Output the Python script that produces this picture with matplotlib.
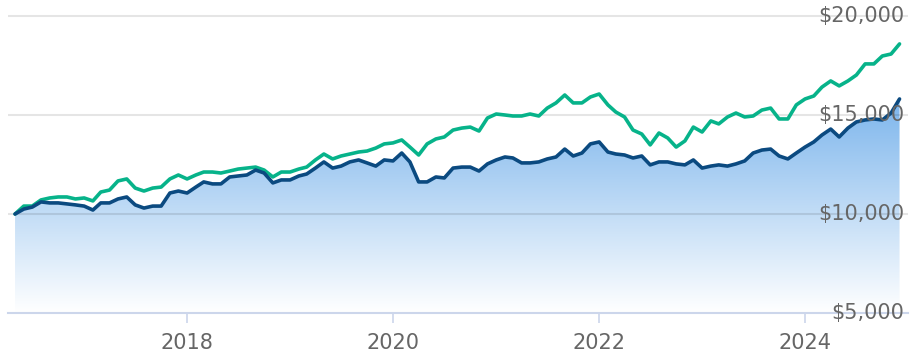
import numpy as np
import pandas as pd
import matplotlib
matplotlib.use("Agg")
import matplotlib.pyplot as plt
import matplotlib.dates as mdates
from matplotlib.colors import LinearSegmentedColormap

# ---- data ----
start_month = "2016-05-01"
end_month = "2024-12-01"

fund = [10000, 10250, 10350, 10610, 10560, 10560, 10510, 10460, 10400, 10200,
        10560, 10560, 10760, 10860, 10460, 10300, 10400, 10400, 11060, 11160,
        11060, 11360, 11620, 11520, 11520, 11870, 11920, 11970, 12220, 12070,
        11570, 11720, 11720, 11920, 12020, 12320, 12630, 12320, 12420, 12630,
        12730, 12580, 12420, 12730, 12680, 13080, 12630, 11620, 11620, 11870,
        11820, 12320, 12370, 12370, 12170, 12530, 12730, 12880, 12830, 12580,
        12580, 12630, 12780, 12880, 13280, 12930, 13080, 13540, 13640, 13130,
        13030, 12980, 12830, 12930, 12480, 12630, 12630, 12530, 12480, 12730,
        12320, 12420, 12480, 12420, 12530, 12680, 13080, 13230, 13280, 12930,
        12780, 13080, 13380, 13640, 13990, 14290, 13890, 14340, 14650, 14750,
        14800, 14750, 15100, 15810]

benchmark = [10000, 10400, 10400, 10710, 10810, 10860, 10860, 10760, 10810, 10660,
             11110, 11210, 11670, 11770, 11310, 11160, 11310, 11360, 11770, 11970,
             11770, 11970, 12120, 12120, 12070, 12170, 12270, 12320, 12370, 12220,
             11870, 12120, 12120, 12270, 12370, 12730, 13030, 12780, 12930, 13030,
             13130, 13180, 13330, 13540, 13590, 13740, 13380, 12980, 13540, 13790,
             13890, 14240, 14340, 14390, 14190, 14850, 15050, 15000, 14950, 14950,
             15050, 14950, 15350, 15610, 16010, 15610, 15610, 15910, 16060, 15510,
             15150, 14900, 14240, 14040, 13490, 14090, 13840, 13380, 13690, 14390,
             14140, 14700, 14550, 14900, 15100, 14900, 14950, 15250, 15350, 14800,
             14800, 15510, 15810, 15960, 16410, 16720, 16470, 16720, 17020, 17580,
             17580, 17980, 18080, 18590]

year_ticks = ["2018-01-01", "2020-01-01", "2022-01-01", "2024-01-01"]
year_labels = ["2018", "2020", "2022", "2024"]
y_ticks = [5000, 10000, 15000, 20000]
y_labels = ["$5,000", "$10,000", "$15,000", "$20,000"]

dates = pd.date_range(start_month, end_month, freq="MS")

# ---- styling ----
W, H = 918, 356
fig = plt.figure(figsize=(W / 100, H / 100), dpi=100)
ax = fig.add_axes([8 / W, 43 / H, 900 / W, 313 / H])

x = mdates.date2num(dates)
fund_arr = np.array(fund, dtype=float)
bench_arr = np.array(benchmark, dtype=float)

ax.set_xlim(mdates.date2num(pd.Timestamp("2016-04-06")),
            mdates.date2num(pd.Timestamp("2024-12-31")))
ax.set_ylim(5000, 20808)

# gradient fill under fund line
poly = ax.fill_between(x, fund_arr, 5000, facecolor="none", edgecolor="none")
cmap = LinearSegmentedColormap.from_list("g", ["#7cb5ec", "#ffffff"])
grad = np.linspace(0, 1, 256).reshape(-1, 1)
im = ax.imshow(grad, cmap=cmap, aspect="auto", origin="upper",
               extent=[x[0], x[-1], 5000, fund_arr.max()], zorder=1,
               interpolation="bicubic")
path = poly.get_paths()[0]
im.set_clip_path(path, transform=ax.transData)

# grid
for v in y_ticks[1:]:
    ax.axhline(v, color="black", alpha=0.1, lw=1.5, zorder=2)

ax.plot(x, fund_arr, color="#0b4a80", lw=2.6, zorder=4,
        solid_joinstyle="round", solid_capstyle="round")
ax.plot(x, bench_arr, color="#07b38a", lw=2.6, zorder=3,
        solid_joinstyle="round", solid_capstyle="round")

for s in ["top", "left", "right"]:
    ax.spines[s].set_visible(False)
ax.spines["bottom"].set_color("#ccd6eb")
ax.spines["bottom"].set_linewidth(1.5)

ax.set_xticks([mdates.date2num(pd.Timestamp(d)) for d in year_ticks])
ax.set_xticklabels(year_labels)
ax.tick_params(axis="x", length=7.5, width=1.2, color="#ccd6eb", pad=7,
               labelsize=15, labelcolor="#666666")
ax.set_yticks([])

for v, lab in zip(y_ticks, y_labels):
    ax.text(1 - 4 / 900, v, lab, transform=ax.get_yaxis_transform(),
            ha="right", va="center", fontsize=15, color="#666666", zorder=5)

fig.savefig("out.png", dpi=100)
